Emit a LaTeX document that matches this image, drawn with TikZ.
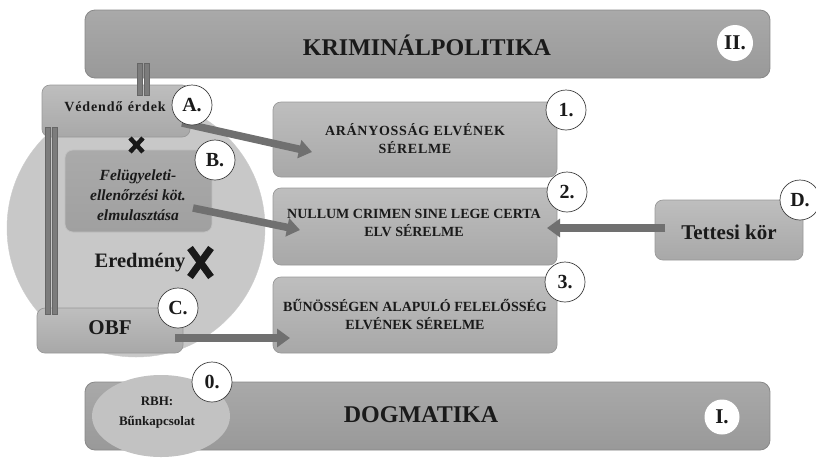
\documentclass[tikz,border=0pt]{standalone}
\usepackage{fontspec}
\setmainfont{Liberation Serif}
\usetikzlibrary{arrows.meta,shapes.geometric}
\definecolor{barfillA}{HTML}{A9A9A9}
\definecolor{barfillB}{HTML}{999999}
\definecolor{barline}{HTML}{888888}
\definecolor{boxA}{HTML}{BEBEBE}
\definecolor{boxB}{HTML}{A8A8A8}
\definecolor{boxline}{HTML}{999999}
\definecolor{bigc}{HTML}{C8C8C8}
\definecolor{arrowc}{HTML}{707070}
\definecolor{txt}{HTML}{1A1A1A}
\definecolor{barpair}{HTML}{7C7C7C}
\definecolor{rbhc}{HTML}{C2C2C2}
\tikzset{
  bar/.style={rectangle, rounded corners=10pt, draw=barline, line width=0.8pt,
    top color=barfillA, bottom color=barfillB, text=txt},
  bartext/.style={font=\fontsize{24}{28}\selectfont\bfseries, text=txt},
  gbox/.style={rectangle, rounded corners=8pt, draw=boxline, line width=0.7pt,
    top color=boxA, bottom color=boxB, text=txt, align=center},
  boxtext/.style={font=\fontsize{14}{18}\selectfont\bfseries, align=center, text=txt},
  tag/.style={circle, fill=white, draw=black!75, line width=0.7pt, minimum size=40pt,
    inner sep=0pt, font=\fontsize{20}{22}\selectfont\bfseries, text=txt},
  romtag/.style={circle, fill=white, minimum size=36pt, inner sep=0pt,
    font=\fontsize{21}{24}\selectfont\bfseries, text=txt},
  fatarrow/.style={draw=arrowc, line width=7.5pt,
    -{Triangle[length=13pt,width=18pt]}},
  pairbar/.style={fill=barpair, draw=black!60, line width=0.4pt},
  crossline/.style={line cap=butt, draw=black!90}
}
\begin{document}
\begin{tikzpicture}[x=1pt,y=-1pt]
\useasboundingbox (0,0) rectangle (816,459);
\fill[white] (0,0) rectangle (816,459);

% bars
\node[bar, minimum width=685pt, minimum height=68pt] (top) at (427.5,44) {};
\node[bartext] (topt) at (427,45) {KRIMINÁLPOLITIKA};
\node[bar, minimum width=685pt, minimum height=68pt] (bot) at (427.5,416) {};
\node[bartext] (bott) at (421,415) {DOGMATIKA};
\node[romtag] (cII) at (735,43) {II.};
\node[romtag, minimum size=35pt] (cI) at (722,417) {I.};

% big circle
\node[circle, fill=bigc, draw=black!20, line width=0.4pt, minimum size=258pt, inner sep=0pt] (big) at (136,228) {};

% left boxes
\node[gbox, minimum width=148pt, minimum height=52pt] (ved) at (116,111) {};
\node[font=\fontsize{14}{16}\selectfont\bfseries, text=txt] (vedt) at (115,107) {V\kern0.9pt é\kern0.9pt d\kern0.9pt e\kern0.9pt n\kern0.9pt d\kern0.9pt ő\kern0.9pt\ \kern0.9pt é\kern0.9pt r\kern0.9pt d\kern0.9pt e\kern0.9pt k};
\node[gbox, top color=bigc!85!black, bottom color=bigc!80!black, draw=black!25,
  minimum width=147pt, minimum height=82pt] (bbox) at (138.5,191) {};
\node[font=\fontsize{15.5}{20}\selectfont\bfseries\itshape, text=txt, align=center] (bboxt) at (138,195)
  {Felügyeleti-\\ellenőrzési köt.\\elmulasztása};
\node[gbox, minimum width=146pt, minimum height=45pt] (obf) at (110,330.5) {};
\node[font=\fontsize{21}{22}\selectfont\bfseries, text=txt] (obft) at (110,328) {OBF};

% double bars
\fill[pairbar] (137,63) rectangle (142,95);
\fill[pairbar] (144,63) rectangle (149,95);
\fill[pairbar] (45,127) rectangle (50,314);
\fill[pairbar] (52,127) rectangle (57,314);

% result text and crosses
\node[font=\fontsize{20.5}{24}\selectfont\bfseries, text=txt, anchor=east] (ered) at (189,263) {Eredmény};
\coordinate (x1a) at (130,138); \coordinate (x1b) at (143,152);
\coordinate (x1c) at (143,138); \coordinate (x1d) at (130,152);
\draw[crossline, line width=4.5pt] (x1a) -- (x1b);
\draw[crossline, line width=4.5pt] (x1c) -- (x1d);
\coordinate (x2a) at (190,248); \coordinate (x2b) at (211,277);
\coordinate (x2c) at (211,248); \coordinate (x2d) at (190,277);
\draw[crossline, line width=7pt] (x2a) -- (x2b);
\draw[crossline, line width=7pt] (x2c) -- (x2d);

% right boxes
\node[gbox, minimum width=284pt, minimum height=75pt] (b1) at (415,139.5) {};
\node[boxtext, font=\fontsize{14}{18}\selectfont\bfseries\addfontfeatures{LetterSpace=5}] (b1t) at (415,139) {ARÁNYOSSÁG ELVÉNEK\\SÉRELME};
\node[gbox, minimum width=284pt, minimum height=77pt] (b2) at (415,226.5) {};
\node[boxtext] (b2t) at (414,223) {NULLUM CRIMEN SINE LEGE CERTA\\ELV SÉRELME};
\node[gbox, minimum width=284pt, minimum height=76pt] (b3) at (415,315) {};
\node[boxtext] (b3t) at (415,315) {BŰNÖSSÉGEN ALAPULÓ FELELŐSSÉG\\ELVÉNEK SÉRELME};
\node[gbox, minimum width=148pt, minimum height=60pt] (tet) at (729,230) {};
\node[font=\fontsize{21}{22}\selectfont\bfseries, text=txt] (tett) at (729,232) {Tettesi kör};

% arrows
\coordinate (aS) at (182,123); \coordinate (aE) at (312,152);
\coordinate (bS) at (193,208); \coordinate (bE) at (300,230);
\coordinate (cS) at (175,338); \coordinate (cE) at (290,338);
\coordinate (dS) at (665,228); \coordinate (dE) at (547,228);
\draw[fatarrow] (aS) -- (aE);
\draw[fatarrow] (bS) -- (bE);
\draw[fatarrow] (cS) -- (cE);
\draw[fatarrow] (dS) -- (dE);

% tags
\node[tag] (cA) at (192,105) {A.};
\node[tag] (cB) at (215,160) {B.};
\node[tag] (cC) at (178,308) {C.};
\node[tag] (c1) at (566,110) {1.};
\node[tag] (c2) at (567,192) {2.};
\node[tag] (c3) at (565,282) {3.};
\node[tag] (cD) at (800,200) {D.};

% RBH ellipse
\node[ellipse, fill=rbhc, minimum width=138pt, minimum height=82pt, inner sep=0pt] (rbh) at (161,416) {};
\node[font=\fontsize{13}{20}\selectfont\bfseries, text=txt, align=center] (rbht) at (157,413)
  {RBH:\\Bűnkapcsolat};
\node[tag] (c0) at (212,382) {0.};
\end{tikzpicture}
\end{document}
